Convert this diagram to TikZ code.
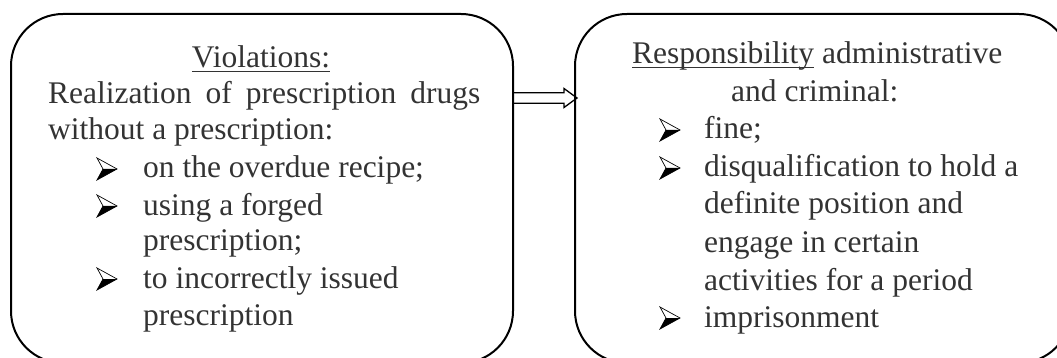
\documentclass[tikz,border=0pt]{standalone}
\usepackage{fontspec}
\setmainfont{Liberation Serif}
\usetikzlibrary{calc}
\newcommand\myul[1]{\setbox0\hbox{#1}\rlap{\rule[-4.5pt]{\wd0}{1.4pt}}\box0\relax}
\tikzset{
  box/.style={draw, line width=2pt, rounded corners=52pt, rectangle, inner sep=0pt, anchor=north west},
  txt/.style={inner sep=0pt, anchor=base west, text=black!80, font=\fontsize{31.5}{37}\selectfont},
  arrowline/.style={draw, line width=1.3pt, line join=miter},
  bul/.pic={
    \fill[black] (6,-9) -- (20,-9) -- (0,2) -- cycle;
    \draw[line width=0.7pt, line join=miter] (0,-20) -- (20,-9) -- (0,2) -- (6,-9) -- cycle;
  }
}
\begin{document}
\begin{tikzpicture}[x=1pt,y=-1pt]
\useasboundingbox (0,0) rectangle (1057,358);
\clip (0,0) rectangle (1057,358);
\node[box, minimum width=502pt, minimum height=349pt] (L) at (10,13) {};
\node[box, minimum width=496pt, minimum height=349pt] (R) at (574,13) {};
\coordinate (a) at ($(L.north east)+(0,85)$);
\coordinate (b) at ($(R.north west)+(3,85)$);
\draw[arrowline] ($(a)+(0,-5.3)$) -- ($(a)+(50,-5.3)$) -- ($(a)+(50,-9.5)$) -- (b)
  -- ($(a)+(50,9.5)$) -- ($(a)+(50,5.3)$) -- ($(a)+(0,5.3)$);
% left box
\node[txt, anchor=base] (l0) at (261,68) {\myul{Violations:}};
\node[txt] (l1) at (48,104) {\hbox to 432pt{Realization of prescription drugs}};
\node[txt] (l2) at (48,140) {without a prescription:};
\pic at (97,178) {bul};
\node[txt] (l3) at (143,178) {on the overdue recipe;};
\pic at (97,215) {bul};
\node[txt] (l4) at (143,215) {using a forged};
\node[txt] (l5) at (143,250) {prescription;};
\pic at (97,288) {bul};
\node[txt] (l6) at (143,288) {to incorrectly issued};
\node[txt] (l7) at (143,325) {prescription};
% right box
\node[txt] (r0) at (632,64) {\myul{Responsibility} administrative};
\node[txt] (r1) at (731,101.5) {and criminal:};
\pic at (660,139) {bul};
\node[txt] (r2) at (704,139) {fine;};
\pic at (660,177) {bul};
\node[txt] (r3) at (704,177) {disqualification to hold a};
\node[txt] (r4) at (704,214) {definite position and};
\node[txt] (r5) at (704,252) {engage in certain};
\node[txt] (r6) at (704,290) {activities for a period};
\pic at (660,327) {bul};
\node[txt] (r7) at (704,327) {imprisonment};
\end{tikzpicture}
\end{document}
